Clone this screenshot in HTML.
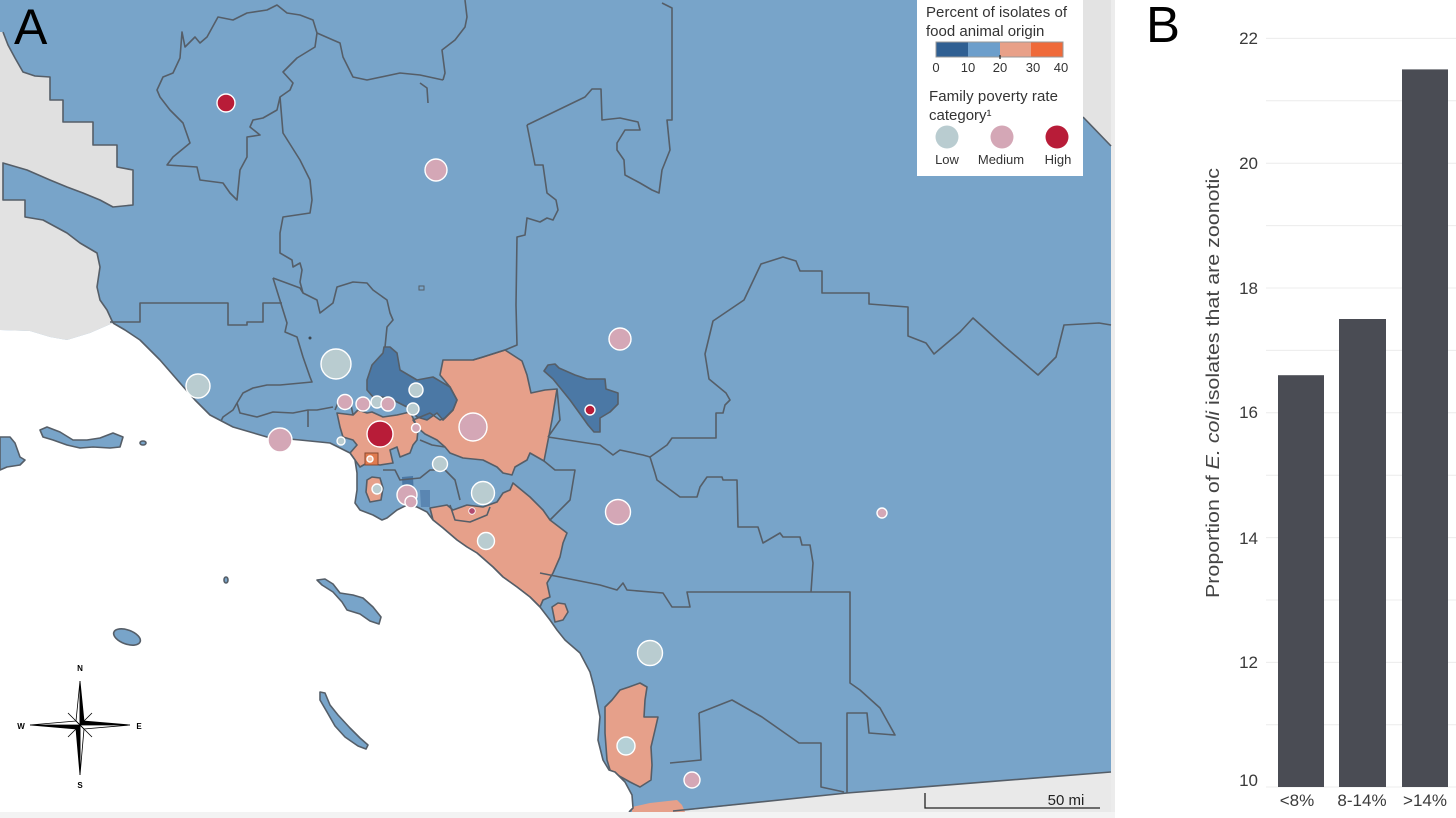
<!DOCTYPE html>
<html><head><meta charset="utf-8"><style>
html,body{margin:0;padding:0;background:#fff;}
svg{display:block;font-family:"Liberation Sans",Arial,sans-serif;}
</style></head><body>
<svg width="1456" height="818" viewBox="0 0 1456 818" xmlns="http://www.w3.org/2000/svg">
<rect x="0" y="0" width="1456" height="818" fill="#ffffff"/>
<!-- MAP BASE -->
<rect x="0" y="0" width="1111" height="812" fill="#78a4c9"/>
<rect x="1111" y="0" width="4" height="812" fill="#ececec"/>
<!-- grey terrain -->
<polygon fill="#e0e0e0" points="0,32 3,32 8,45 15,58 23,72 35,76 50,77 50,100 63,100 63,122 93,122 93,145 117,145 117,167 133,170 133,205 113,207 100,200 83,193 67,187 50,180 27,170 3,163 0,163"/>
<polygon fill="#e2e2e2" points="0,163 3,163 3,200 25,200 25,217 43,220 67,233 80,243 97,253 100,267 97,287 100,300 107,310 113,323 90,333 67,340 50,337 30,331 0,330"/>
<polygon fill="#e3e3e3" points="1083,0 1111,0 1111,146 1083,117"/>
<polygon fill="#e9e9e9" points="673,812 847,793 1111,772 1111,812"/>
<!-- salmon regions -->
<g fill="#e6a08a">
<polygon points="443,360 473,360 483,357 505,350 522,361 527,375 531,393 545,390 557,389 552,420 544,461 530,453 527,460 515,467 512,475 503,473 497,467 483,460 463,458 450,453 445,447 437,440 425,434 418,428 413,420 430,413 440,420 445,418 453,410 457,400 450,387 440,375"/>
<polygon points="337,413 353,415 358,410 367,413 372,412 383,417 397,415 410,412 415,422 418,430 417,440 413,445 410,453 400,457 397,447 390,450 393,463 380,465 367,463 360,467 355,460 350,453 357,445 353,440 343,437 340,427"/>
<polygon points="430,508 447,505 453,510 467,505 483,507 497,502 503,493 510,490 513,483 530,497 543,510 550,520 567,533 563,543 560,557 553,573 547,583 550,597 543,600 540,607 530,597 517,587 503,577 493,567 477,553 467,547 457,540 443,528 433,520"/>
<polygon points="552,607 558,603 565,604 568,612 563,620 555,622"/>
<polygon points="605,707 612,700 620,690 629,687 640,683 647,687 645,700 644,717 658,717 655,730 651,747 652,765 651,780 640,787 630,782 621,777 610,770 607,760 605,733"/>
<polygon points="632,807 650,803 677,800 682,805 685,812 632,812"/>
<polygon points="367,480 372,477 380,478 383,488 381,500 370,502 366,492"/>
</g>
<!-- dark blue -->
<g fill="#4b78a5">
<polygon points="367,380 372,365 383,353 384,347 390,347 397,353 400,370 417,380 433,377 450,387 457,400 453,410 443,420 437,413 427,420 417,417 407,407 393,400 383,397 373,397 367,390"/>
<polygon points="544,371 548,365 555,364 559,368 575,375 587,379 605,379 606,389 618,393 618,404 610,412 600,418 600,432 594,432 588,425 583,418 570,400 553,379"/>
<polygon points="402,477 413,476 414,497 403,497"/>
<polygon points="420,490 430,490 430,507 421,507" fill="#5a86b2"/>
</g>
<!-- boundary lines -->
<g fill="none" stroke="#555e68" stroke-width="1.6" stroke-linejoin="round">
<polygon points="182,32 185,47 195,37 200,43 207,37 218,17 233,20 247,13 267,10 277,5 287,13 300,15 313,20 317,33 315,47 297,58 283,72 293,83 290,90 280,97 277,110 263,118 253,120 250,127 260,135 247,137 247,157 240,170 237,200 230,193 223,183 200,180 197,167 167,165 173,157 190,143 183,123 170,110 160,97 157,90 163,77 173,73 180,58"/>
<polyline points="317,33 333,40 340,43 343,57 353,77 367,80 400,73 420,75 443,80"/>
<polyline points="465,0 467,17 465,27 455,40 442,50 445,73 443,80"/>
<polyline points="420,83 427,88 428,103"/>
<polyline points="280,97 283,133 300,160 310,180 312,200 310,213 283,217 280,233 280,253 292,260 293,267 300,263 302,270 300,282 303,293"/>
<polyline points="273,278 292,285 300,288 303,293 317,300 320,313 333,303 337,287 353,282 367,283 373,290 387,300 390,313 393,320 387,327 385,347"/>
<polyline points="273,278 287,323 285,332 297,337 303,357 310,377 312,382 280,385 267,385 253,388 243,393 237,403 233,410 223,417 220,423"/>
<polyline points="237,403 240,413 257,417 273,412 293,413 308,410 317,410 333,407"/>
<polyline points="308,410 308,427"/>
<polyline points="110,322 140,322 140,303 228,303 228,325 247,325 247,322 263,322 263,303 282,303"/>
<polyline points="3,32 8,45 15,58 23,72 35,76 50,77 50,100 63,100 63,122 93,122 93,145 117,145 117,167 133,170 133,205 113,207 100,200 83,193 67,187 50,180 27,170 3,163 3,200 25,200 25,217 43,220 67,233 80,243 97,253 100,267 97,287 100,300 107,310 113,323"/>
<polyline points="527,125 535,165 543,165 547,193 556,200 558,210 553,220 547,218 540,222 527,218 525,235 517,237 516,305 517,345 505,350 483,357 473,360"/>
<polyline points="527,125 585,97 592,89 601,89 602,120 620,118 638,122 640,130 625,130 617,143 617,150 624,160 625,175 640,183 652,190 659,193 662,170 670,150 668,130 667,120 672,120 672,8 662,3"/>
<polyline points="548,437 600,445 613,455 620,450 643,455 650,457 667,445 672,438 716,438 716,413 723,413 725,405 730,400 726,393 709,379 705,354 713,321 744,300 761,264 783,257 796,261 800,271 822,271 822,293 869,293 869,304 908,307 908,336 926,343 934,354 960,332 973,318 1004,346 1038,375 1056,357 1064,325 1099,323 1111,325"/>
<polyline points="650,457 655,473 657,480 680,497 697,497 700,487 707,477 722,477 723,480 737,480 738,527 758,527 763,543 780,533 783,537 800,537 802,545 810,545 813,563 811,592"/>
<polyline points="540,573 600,585 617,590 623,583 627,590 663,593 672,607 690,607 687,592 850,592 850,683 860,690 880,708 895,735 869,733 867,713 847,713 847,793"/>
<polyline points="699,713 732,700 762,717 799,743 821,743 821,787 844,792"/>
<polyline points="699,713 701,760 670,763"/>
<polyline points="673,811 847,793 1111,772"/>
<polyline points="557,389 560,420 548,437"/>
<polyline points="544,461 555,470 575,470 570,500 550,520"/>
<polyline points="1083,117 1111,146"/>
<polygon points="443,360 473,360 483,357 505,350 522,361 527,375 531,393 545,390 557,389 552,420 544,461 530,453 527,460 515,467 512,475 503,473 497,467 483,460 463,458 450,453 445,447 437,440 425,434 418,428 413,420 430,413 440,420 445,418 453,410 457,400 450,387 440,375"/>
<polygon points="337,413 353,415 358,410 367,413 372,412 383,417 397,415 410,412 415,422 418,430 417,440 413,445 410,453 400,457 397,447 390,450 393,463 380,465 367,463 360,467 355,460 350,453 357,445 353,440 343,437 340,427"/>
<polygon points="430,508 447,505 453,510 467,505 483,507 497,502 503,493 510,490 513,483 530,497 543,510 550,520 567,533 563,543 560,557 553,573 547,583 550,597 543,600 540,607 530,597 517,587 503,577 493,567 477,553 467,547 457,540 443,528 433,520"/>
<polygon points="367,380 372,365 383,353 384,347 390,347 397,353 400,370 417,380 433,377 450,387 457,400 453,410 443,420 437,413 427,420 417,417 407,407 393,400 383,397 373,397 367,390"/>
<polygon points="544,371 548,365 555,364 559,368 575,375 587,379 605,379 606,389 618,393 618,404 610,412 600,418 600,432 594,432 588,425 583,418 570,400 553,379"/>
<polygon points="605,707 612,700 620,690 629,687 640,683 647,687 645,700 644,717 658,717 655,730 651,747 652,765 651,780 640,787 630,782 621,777 610,770 607,760 605,733"/>
<polygon points="552,607 558,603 565,604 568,612 563,620 555,622"/>
<polygon points="367,480 372,477 380,478 383,488 381,500 370,502 366,492"/>
<polyline points="450,505 455,520 470,522 487,515 490,507"/>
<polyline points="353,415 350,400 340,398 335,410"/>
<polyline points="420,440 432,445 445,447"/>
<polyline points="383,470 395,470 400,480 420,478 430,470 445,470 455,480 460,500"/>
</g>
<!-- OCEAN -->
<polygon fill="#ffffff" points="113,323 125,330 140,340 160,360 180,383 195,400 210,415 233,427 267,437 300,440 330,443 350,453 355,460 357,473 357,490 355,503 360,510 373,515 382,520 387,518 397,510 407,505 417,507 427,512 433,520 443,528 457,540 467,547 477,553 493,567 503,577 517,587 530,597 540,607 550,620 557,630 565,640 580,653 590,672 594,687 600,717 598,740 603,760 609,770 615,772 625,782 632,795 633,808 629,813 0,813 0,330 30,331 50,337 67,340 90,333"/>
<polyline fill="none" stroke="#555e68" stroke-width="1.6" stroke-linejoin="round" points="113,323 125,330 140,340 160,360 180,383 195,400 210,415 233,427 267,437 300,440 330,443 350,453 355,460 357,473 357,490 355,503 360,510 373,515 382,520 387,518 397,510 407,505 417,507 427,512 433,520 443,528 457,540 467,547 477,553 493,567 503,577 517,587 530,597 540,607 550,620 557,630 565,640 580,653 590,672 594,687 600,717 598,740 603,760 609,770 615,772 625,782 632,795 633,808 629,812"/>
<rect x="0" y="812" width="1115" height="6" fill="#f3f3f3"/>
<!-- islands -->
<g fill="#78a4c9" stroke="#555e68" stroke-width="1.6" stroke-linejoin="round">
<polygon points="40,430 47,427 60,432 73,440 87,440 100,438 113,433 123,437 120,447 110,448 93,447 80,448 67,445 53,440 43,437"/>
<polygon points="0,437 10,437 15,443 20,457 25,460 20,465 7,467 0,470"/>
<ellipse cx="143" cy="443" rx="3" ry="2"/>
<polygon points="317,580 325,579 333,584 340,593 353,595 363,598 373,607 381,617 379,624 370,621 360,614 347,610 342,602 333,592 322,585"/>
<polygon points="320,692 325,693 330,705 338,715 350,728 360,738 368,745 366,749 358,746 345,737 335,726 327,712 320,700"/>
<ellipse cx="127" cy="637" rx="14" ry="7" transform="rotate(20 127 637)"/>
<ellipse cx="226" cy="580" rx="2" ry="3"/>
</g>
<!-- small features -->
<rect x="365" y="453" width="13" height="12" fill="#e07b50" stroke="#8a4a30" stroke-width="1"/>
<rect x="419" y="286" width="5" height="4" fill="none" stroke="#555e68" stroke-width="1"/>
<circle cx="310" cy="338" r="1.5" fill="#3c4650"/>
<!-- circles -->
<g stroke="#ffffff" stroke-width="1.4">
<circle cx="226" cy="103" r="9" fill="#b81c38"/>
<circle cx="436" cy="170" r="11" fill="#d4a7b6"/>
<circle cx="336" cy="364" r="15" fill="#b9ccd0"/>
<circle cx="198" cy="386" r="12" fill="#b9ccd0"/>
<circle cx="280" cy="440" r="12" fill="#d4a7b6"/>
<circle cx="620" cy="339" r="11" fill="#d4a7b6"/>
<circle cx="590" cy="410" r="5" fill="#b81c38"/>
<circle cx="473" cy="427" r="14" fill="#d4a7b6"/>
<circle cx="380" cy="434" r="13" fill="#b81c38"/>
<circle cx="345" cy="402" r="7.5" fill="#d4a7b6"/>
<circle cx="363" cy="404" r="7" fill="#d4a7b6"/>
<circle cx="377" cy="402" r="6" fill="#b9ccd0"/>
<circle cx="388" cy="404" r="7" fill="#d4a7b6"/>
<circle cx="416" cy="390" r="7" fill="#b9ccd0"/>
<circle cx="413" cy="409" r="6" fill="#b9ccd0"/>
<circle cx="416" cy="428" r="4.5" fill="#d4a7b6"/>
<circle cx="341" cy="441" r="4" fill="#b9ccd0"/>
<circle cx="370" cy="459" r="3" fill="#f2c0a8"/>
<circle cx="440" cy="464" r="7.5" fill="#b9ccd0"/>
<circle cx="377" cy="489" r="5" fill="#b9ccd0"/>
<circle cx="407" cy="495" r="10" fill="#d4a7b6"/>
<circle cx="411" cy="502" r="6" fill="#d4a7b6"/>
<circle cx="483" cy="493" r="11.5" fill="#b9ccd0"/>
<circle cx="472" cy="511" r="3.3" fill="#b04a70" stroke-width="0.8"/>
<circle cx="486" cy="541" r="8.5" fill="#b9ccd0"/>
<circle cx="618" cy="512" r="12.5" fill="#d4a7b6"/>
<circle cx="882" cy="513" r="5" fill="#d4a7b6"/>
<circle cx="650" cy="653" r="12.5" fill="#b9ccd0"/>
<circle cx="626" cy="746" r="9" fill="#b5d0d6"/>
<circle cx="692" cy="780" r="8" fill="#d4a7b6"/>
</g>
<!-- Panel label A -->
<text x="14" y="44" font-size="50" fill="#000">A</text>
<!-- Legend -->
<rect x="917" y="0" width="166" height="176" fill="#ffffff"/>
<text x="926" y="17" font-size="15" fill="#333" textLength="141">Percent of isolates of</text>
<text x="926" y="36" font-size="15" fill="#333">food animal origin</text>
<rect x="936" y="42" width="32" height="15" fill="#2f5f92"/>
<rect x="968" y="42" width="32" height="15" fill="#6c9ecb"/>
<rect x="1000" y="42" width="31" height="15" fill="#e8a088"/>
<rect x="1031" y="42" width="32" height="15" fill="#ef6a3a"/>
<rect x="936" y="42" width="127" height="15" fill="none" stroke="#999" stroke-width="1"/>
<line x1="1000" y1="55" x2="1000" y2="59" stroke="#222" stroke-width="1.2"/>
<g font-size="13" fill="#333" text-anchor="middle">
<text x="936" y="72">0</text><text x="968" y="72">10</text><text x="1000" y="72">20</text><text x="1033" y="72">30</text><text x="1061" y="72">40</text>
</g>
<text x="929" y="101" font-size="15" fill="#333" textLength="129">Family poverty rate</text>
<text x="929" y="120" font-size="15" fill="#333">category¹</text>
<circle cx="947" cy="137" r="11.5" fill="#b9ccd0"/>
<circle cx="1002" cy="137" r="11.5" fill="#d4a7b6"/>
<circle cx="1057" cy="137" r="11.5" fill="#b81c38"/>
<g font-size="13" fill="#333" text-anchor="middle">
<text x="947" y="164">Low</text><text x="1001" y="164">Medium</text><text x="1058" y="164">High</text>
</g>
<!-- Compass -->
<g stroke="#000" stroke-width="0.8" stroke-linejoin="miter">
<polygon points="80,681 76,721 80,725" fill="#fff"/>
<polygon points="80,681 84,721 80,725" fill="#000"/>
<polygon points="80,775 84,729 80,725" fill="#fff"/>
<polygon points="80,775 76,729 80,725" fill="#000"/>
<polygon points="130,725 84,721 80,725" fill="#000"/>
<polygon points="130,725 84,729 80,725" fill="#fff"/>
<polygon points="30,725 76,729 80,725" fill="#000"/>
<polygon points="30,725 76,721 80,725" fill="#fff"/>
<polygon points="80,725 92,713 84,721" fill="#000"/>
<polygon points="80,725 68,737 76,729" fill="#000"/>
<polygon points="80,725 68,713 76,721" fill="#fff"/>
<polygon points="80,725 92,737 84,729" fill="#fff"/>
</g>
<g font-size="8" font-weight="bold" fill="#000" text-anchor="middle">
<text x="80" y="671">N</text><text x="80" y="788">S</text><text x="21" y="729">W</text><text x="139" y="729">E</text>
</g>
<!-- scale bar -->
<path d="M925,793 V808 H1100" fill="none" stroke="#222" stroke-width="1.3"/>
<text x="1066" y="805" font-size="15" fill="#222" text-anchor="middle">50 mi</text>
<!-- PANEL B -->
<rect x="1115" y="0" width="341" height="818" fill="#ffffff"/>
<text x="1146" y="42" font-size="51" fill="#000">B</text>
<g stroke="#ececec" stroke-width="1">
<line x1="1266" y1="38.4" x2="1456" y2="38.4"/>
<line x1="1266" y1="100.8" x2="1456" y2="100.8"/>
<line x1="1266" y1="163.2" x2="1456" y2="163.2"/>
<line x1="1266" y1="225.6" x2="1456" y2="225.6"/>
<line x1="1266" y1="288" x2="1456" y2="288"/>
<line x1="1266" y1="350.4" x2="1456" y2="350.4"/>
<line x1="1266" y1="412.8" x2="1456" y2="412.8"/>
<line x1="1266" y1="475.2" x2="1456" y2="475.2"/>
<line x1="1266" y1="537.6" x2="1456" y2="537.6"/>
<line x1="1266" y1="600" x2="1456" y2="600"/>
<line x1="1266" y1="662.4" x2="1456" y2="662.4"/>
<line x1="1266" y1="724.8" x2="1456" y2="724.8"/>
<line x1="1266" y1="787" x2="1456" y2="787"/>
</g>
<g fill="#4a4c54">
<rect x="1278" y="375.2" width="46" height="411.8"/>
<rect x="1339" y="319" width="47" height="468"/>
<rect x="1402" y="69.4" width="46" height="717.6"/>
</g>
<g font-size="17" fill="#3a3a3a" text-anchor="end">
<text x="1258" y="44">22</text>
<text x="1258" y="169">20</text>
<text x="1258" y="294">18</text>
<text x="1258" y="418">16</text>
<text x="1258" y="544">14</text>
<text x="1258" y="668">12</text>
<text x="1258" y="786">10</text>
</g>
<g font-size="17" fill="#3a3a3a" text-anchor="middle">
<text x="1297" y="806">&lt;8%</text>
<text x="1362" y="806">8-14%</text>
<text x="1425" y="806">&gt;14%</text>
</g>
<text transform="translate(1219,598) rotate(-90)" font-size="18" fill="#444" textLength="430" lengthAdjust="spacingAndGlyphs">Proportion of <tspan font-style="italic">E. coli</tspan> isolates that are zoonotic</text>
</svg>
</body></html>
